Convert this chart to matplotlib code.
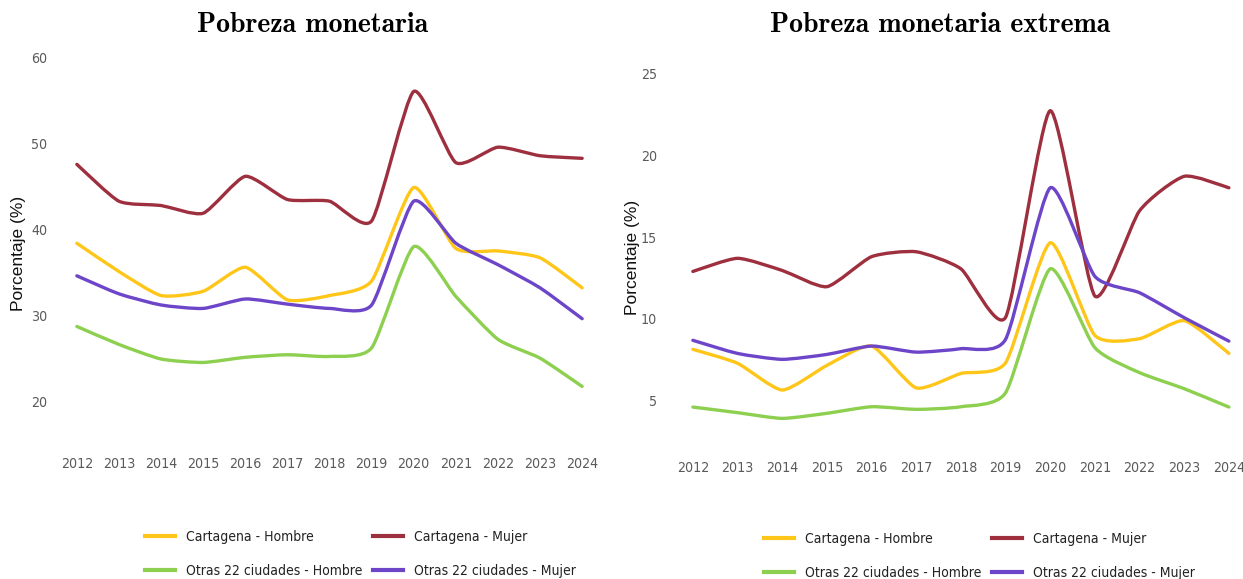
import numpy as np
import matplotlib
matplotlib.use("Agg")
import matplotlib.pyplot as plt
from matplotlib.path import Path
from matplotlib import patches, font_manager
from matplotlib.lines import Line2D

years = [2012, 2013, 2014, 2015, 2016, 2017, 2018, 2019, 2020, 2021, 2022, 2023, 2024]

labels = [
    "Cartagena - Hombre",
    "Cartagena - Mujer",
    "Otras 22 ciudades - Hombre",
    "Otras 22 ciudades - Mujer",
]
colors = ["#FFC61A", "#9E2F3E", "#8DCF4F", "#6C45C9"]

# Pobreza monetaria (%)
pm_cart_hombre = [38.4, 35.1, 32.3, 32.8, 35.6, 31.8, 32.3, 34.0, 44.9, 37.8, 37.5, 36.7, 33.2]
pm_cart_mujer = [47.6, 43.3, 42.8, 41.9, 46.2, 43.5, 43.3, 41.0, 56.1, 47.8, 49.6, 48.6, 48.3]
pm_otras_hombre = [28.7, 26.6, 24.9, 24.5, 25.1, 25.4, 25.2, 26.2, 38.0, 32.2, 27.2, 25.0, 21.7]
pm_otras_mujer = [34.6, 32.5, 31.2, 30.8, 31.9, 31.3, 30.8, 31.2, 43.3, 38.4, 35.9, 33.2, 29.6]

# Pobreza monetaria extrema (%)
pme_cart_hombre = [8.15, 7.3, 5.67, 7.17, 8.35, 5.8, 6.68, 7.33, 14.65, 9.0, 8.8, 9.9, 7.9]
pme_cart_mujer = [12.9, 13.7, 12.96, 11.97, 13.8, 14.1, 13.06, 10.1, 22.7, 11.4, 16.6, 18.7, 18.0]
pme_otras_hombre = [4.63, 4.29, 3.94, 4.25, 4.65, 4.49, 4.65, 5.5, 13.06, 8.25, 6.73, 5.75, 4.63]
pme_otras_mujer = [8.7, 7.9, 7.54, 7.84, 8.35, 7.98, 8.19, 8.76, 18.0, 12.6, 11.6, 10.08, 8.65]

W, H = 1243, 579
plt.rcParams["font.family"] = ["Liberation Sans", "DejaVu Sans"]

# look for a narrow sans for ticks / legend (Arial Narrow look)
narrow = None
for f in font_manager.fontManager.ttflist:
    fn = f.fname.lower()
    if ("narrow" in fn or "condensed" in fn) and "sans" in fn and "mono" not in fn \
            and f.weight in (400, "normal", "regular") and f.style == "normal":
        narrow = f.fname
        break
if narrow:
    tick_fp = font_manager.FontProperties(fname=narrow, size=10.2)
    leg_fp = font_manager.FontProperties(fname=narrow, size=10)
else:
    tick_fp = font_manager.FontProperties(family="Liberation Sans", size=9.5)
    leg_fp = font_manager.FontProperties(family="Liberation Sans", size=9)


def smooth_path(xs, ys, k=0.1):
    # bezier through the data points, light smoothing
    n = len(xs)
    verts = [(xs[0], ys[0])]
    codes = [Path.MOVETO]
    for i in range(n - 1):
        im = max(i - 1, 0)
        ip = min(i + 2, n - 1)
        c1 = (xs[i] + (xs[i + 1] - xs[im]) * k, ys[i] + (ys[i + 1] - ys[im]) * k)
        c2 = (xs[i + 1] - (xs[ip] - xs[i]) * k, ys[i + 1] - (ys[ip] - ys[i]) * k)
        verts += [c1, c2, (xs[i + 1], ys[i + 1])]
        codes += [Path.CURVE4] * 3
    return Path(verts, codes)


def draw_panel(ax, series, ylim, yticks, xlim):
    for vals, c in zip(series, colors):
        p = patches.PathPatch(smooth_path(years, vals), facecolor="none",
                              edgecolor=c, lw=2.4, capstyle="round", joinstyle="round")
        ax.add_patch(p)
    ax.set_xlim(*xlim)
    ax.set_ylim(*ylim)
    ax.set_xticks(years)
    ax.set_yticks(yticks)
    for s in ax.spines.values():
        s.set_visible(False)
    ax.tick_params(length=0, colors="#5a5a5a")
    for lbl in ax.get_xticklabels() + ax.get_yticklabels():
        lbl.set_fontproperties(tick_fp)
    ax.set_ylabel("Porcentaje (%)", fontsize=12.5, color="#111111")


fig = plt.figure(figsize=(W / 100, H / 100), dpi=100)

ax1 = fig.add_axes([60 / W, 1 - 452.5 / H, 539 / W, 398.8 / H])
draw_panel(ax1, [pm_cart_hombre, pm_cart_mujer, pm_otras_hombre, pm_otras_mujer],
           (14, 60.5), [20, 30, 40, 50, 60], (2011.6, 2024.4))
ax1.tick_params(axis="x", pad=3)
ax1.tick_params(axis="y", pad=9)
ax1.yaxis.set_label_coords(-34 / 539, 0.5)

ax2 = fig.add_axes([675 / W, 1 - 450.2 / H, 567.3 / W, 385.4 / H])
draw_panel(ax2, [pme_cart_hombre, pme_cart_mujer, pme_otras_hombre, pme_otras_mujer],
           (2.0, 25.5), [5, 10, 15, 20, 25], (2011.6, 2024.3))
ax2.tick_params(axis="x", pad=7.5)
ax2.tick_params(axis="y", pad=13)
ax2.yaxis.set_label_coords(-35 / 567.3, 0.5)

fig.text(313 / W, 1 - 25 / H, "Pobreza monetaria", family="cmb10", fontsize=20,
         ha="center", va="center")
fig.text(940 / W, 1 - 25 / H, "Pobreza monetaria extrema", family="cmb10", fontsize=20,
         ha="center", va="center")

# column-major fill -> rows: Cartagena H / M, Otras H / M
order = [0, 2, 1, 3]
handles = [Line2D([], [], color=colors[i], lw=3) for i in order]
leg_labels = [labels[i] for i in order]
for x0, ytop in [(145, 530), (764, 532)]:
    fig.legend(handles, leg_labels, loc="upper left", bbox_to_anchor=(x0 / W, 1 - ytop / H),
               ncol=2, frameon=False, prop=leg_fp, borderpad=0, borderaxespad=0,
               handlelength=2.15, handletextpad=0.8, columnspacing=0.8, labelspacing=1.45,
               labelcolor="#222222")

fig.savefig("out.png", dpi=100, facecolor="white")
